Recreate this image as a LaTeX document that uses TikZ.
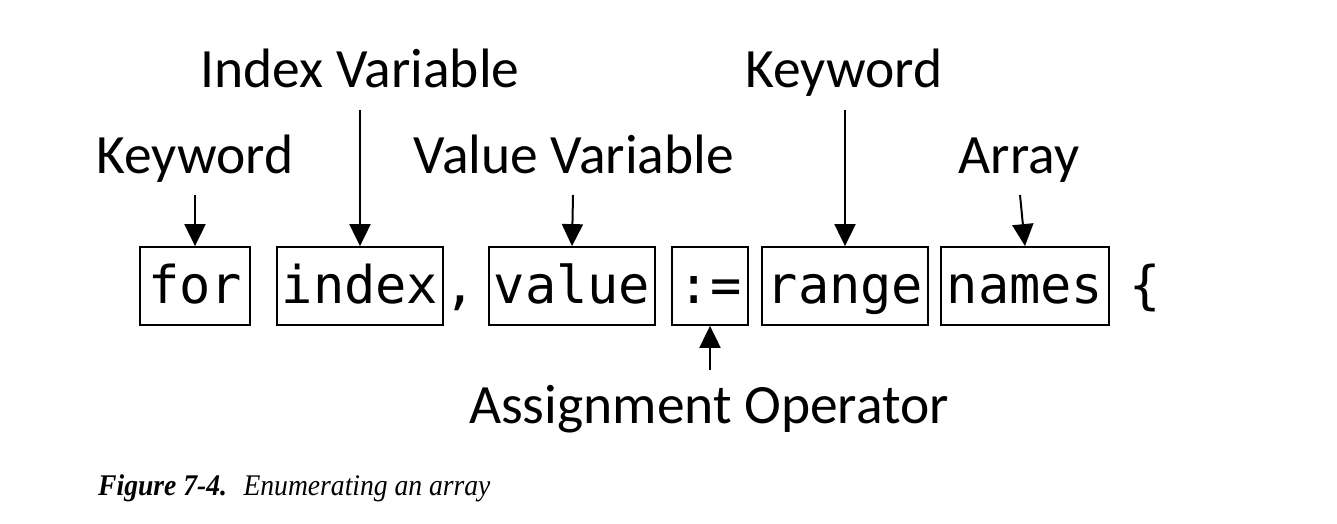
\documentclass[tikz,border=0pt]{standalone}
\usepackage{fontspec}
\setmainfont{Carlito}
\newfontfamily\codefont{DejaVu Sans Mono}
\newfontfamily\capfont{Liberation Serif}
\usetikzlibrary{arrows.meta}
\begin{document}
\begin{tikzpicture}[x=1pt,y=-1pt,
  lbl/.style={font=\fontsize{55.5}{62}\selectfont, anchor=base, inner sep=0pt},
  codebox/.style={draw, line width=1.8pt, rectangle, inner sep=0pt,
    minimum height=78pt, text height=44pt, text depth=10pt,
    font=\codefont\fontsize{52}{60}\selectfont},
  arr/.style={line width=2pt, -{Triangle[width=21pt,length=22pt]}}]
\useasboundingbox (0,0) rectangle (1337,524);
% boxes
\node[codebox, minimum width=110pt] (for) at (195,286) {for};
\node[codebox, minimum width=166pt] (index) at (360,286) {index};
\node[lbl, font=\codefont\fontsize{52}{60}\selectfont] (comma) at (460,303) {,};
\node[codebox, minimum width=166pt] (value) at (572,286) {value};
\node[codebox, minimum width=76pt] (assign) at (710,286) {:=};
\node[codebox, minimum width=166pt] (range) at (845,286) {range};
\node[codebox, minimum width=168pt] (names) at (1025,286) {names};
\node[lbl, font=\codefont\fontsize{52}{60}\selectfont] (brace) at (1145,303) {\{};
% labels
\node[lbl] (kw1) at (195,173) {Keyword};
\node[lbl] (idxv) at (360,88) {Index Variable};
\node[lbl] (valv) at (574,173) {Value Variable};
\node[lbl] (kw2) at (844,88) {Keyword};
\node[lbl] (arrl) at (1019,173) {Array};
\node[lbl] (asg) at (709,423) {Assignment Operator};
% arrow starts
\coordinate (s1) at (195,195);
\coordinate (s2) at (360,110);
\coordinate (s3) at (573,195);
\coordinate (s4) at (845,110);
\coordinate (s5) at (1020,195);
\coordinate (s6) at (710,370);
\draw[arr] (s1) -- (for.north);
\draw[arr] (s2) -- (index.north);
\draw[arr] (s3) -- (value.north);
\draw[arr] (s4) -- (range.north);
\draw[arr] (s5) -- (names.north);
\draw[arr] (s6) -- (assign.south);
% caption
\node[anchor=base west, inner sep=0pt, font=\capfont\fontsize{30}{36}\selectfont] (cap) at (98,495)
  {\scalebox{0.92}[1]{\textbf{\textit{Figure 7-4.}}\hspace{0.6em}\textit{Enumerating an array}}};
\end{tikzpicture}
\end{document}
